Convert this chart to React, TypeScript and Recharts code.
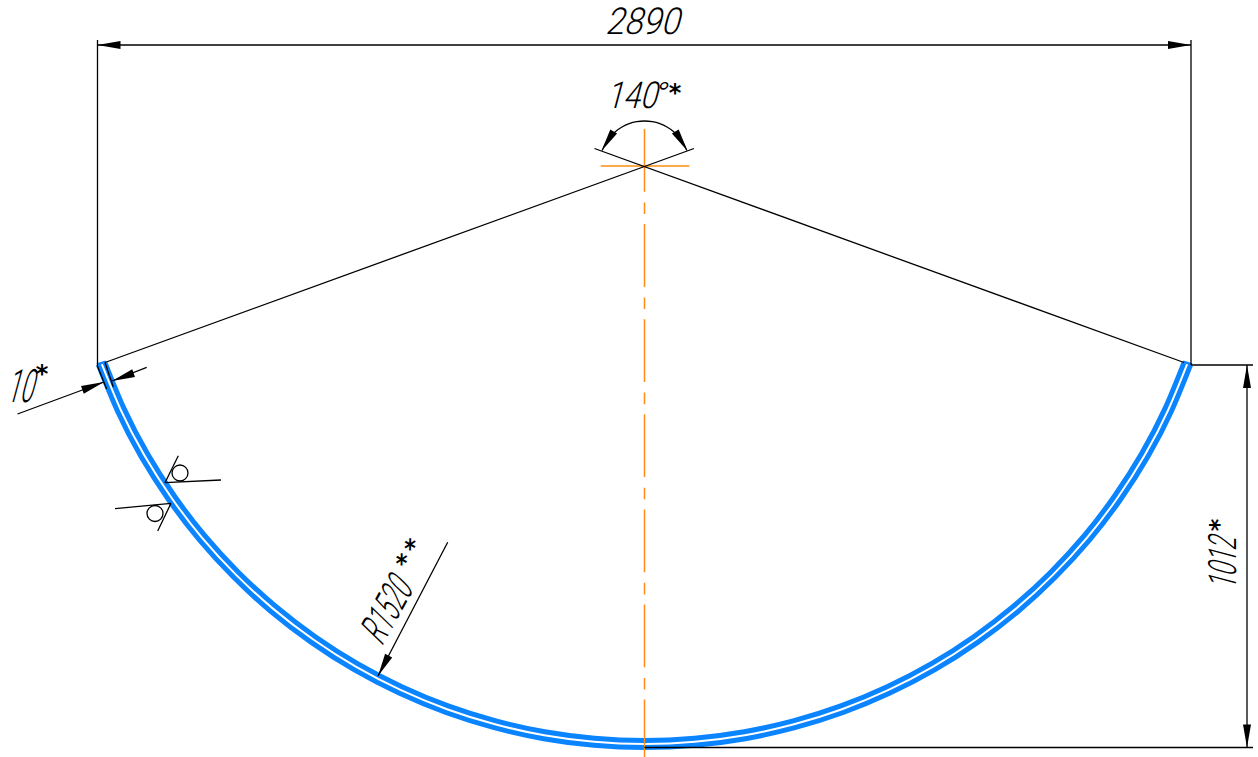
import { ScatterChart, Scatter, XAxis, YAxis } from "recharts";

type P = { x: number; y: number };

const WIDTH = 1258;
const HEIGHT = 757;

// The wall of the shell, every 5 degrees
const outerX = [98.5, 117.9, 141.3, 168.6, 199.4, 233.7, 271, 311.3, 354, 399, 445.8, 494.1, 543.6, 593.9, 644.5, 695.1, 745.4, 794.9, 843.2, 890, 935, 977.7, 1018, 1055.3, 1089.6, 1120.4, 1147.7, 1171.1, 1190.5];
const outerY = [365.2, 412, 457, 499.7, 540, 577.3, 611.6, 642.4, 669.7, 693.1, 712.5, 727.7, 738.7, 745.3, 747.5, 745.3, 738.7, 727.7, 712.5, 693.1, 669.7, 642.4, 611.6, 577.3, 540, 499.7, 457, 412, 365.2];
const innerX = [105.1, 124.3, 147.4, 174.3, 204.8, 238.6, 275.5, 315.3, 357.5, 401.9, 448.2, 495.9, 544.8, 594.5, 644.5, 694.5, 744.2, 793.1, 840.8, 887.1, 931.5, 973.7, 1013.5, 1050.4, 1084.2, 1114.7, 1141.6, 1164.7, 1183.9];
const innerY = [362.8, 409.1, 453.5, 495.7, 535.7, 572.4, 606.2, 636.7, 663.6, 686.7, 705.9, 720.9, 731.8, 738.3, 740.5, 738.3, 731.8, 720.9, 705.9, 686.7, 663.6, 636.7, 606.2, 572.4, 535.7, 495.7, 453.5, 409.1, 362.8];

// 140 degree dimension arc
const angleArcX = [602.2, 605.5, 610, 615.6, 622, 629.1, 636.7, 644.5, 652.3, 659.9, 667, 673.4, 679, 683.5, 686.8];
const angleArcY = [150.6, 143.5, 137.1, 131.5, 127, 123.7, 121.7, 121, 121.7, 123.7, 127, 131.5, 137.1, 143.5, 150.6];

// straight drawing lines: x1, y1, x2, y2
const thinLines: number[][] = [
  [97.5, 365, 97.5, 40],
  [1191, 365, 1191, 40],
  [97.5, 45, 1191, 45],
  [105, 362.5, 694, 148.5],
  [1184, 362.5, 594.5, 148.5],
  [1191, 365, 1253, 365],
  [644.5, 747.5, 1253, 747.5],
  [1247, 365, 1247, 747.5],
  [97, 365, 106.7, 389],
  [105, 362.5, 113.3, 387],
  [17.5, 414, 104, 382],
  [146.7, 367.3, 112, 381],
  [447.7, 542.3, 378, 676],
  [165, 482.7, 221, 480],
  [165, 482.7, 178.3, 455.7],
  [171, 503.3, 115, 508.7],
  [171, 503.3, 157.7, 531],
];

const wallCaps: number[][] = [
  [97, 364.5, 106, 361.6],
  [1183, 361.6, 1192, 364.5],
];

const centreH = [
  { x: 600.7, y: 166 },
  { x: 689.3, y: 166 },
];
const centreV = [
  { x: 644.5, y: 129 },
  { x: 644.5, y: 757 },
];

const arrowX = [97.5, 1191, 1247, 1247, 378, 601.5, 687.5, 104, 112];
const arrowY = [45, 45, 365, 747.5, 676, 151, 151, 382, 381];
const arrowAngle = [180, 0, -90, 90, 117.6, 122, 58, -20, 160];

const weldX = [180, 155];
const weldY = [473, 513.5];

const labelText = ["2890", "140", "°", "10", "1012", "R1520"];
const labelX = [642, 631, 659, 19, 1236, 398];
const labelY = [34, 108, 105, 402, 564, 618];
const labelAngle = [0, 0, 0, 0, -90, -61];
const labelScale = [0.9, 0.82, 1.1, 0.52, 0.6, 0.56];
const labelSize = [37, 37, 32, 46, 39, 41];

const starX = [675, 42, 1214, 401, 409.5];
const starY = [88, 369, 525, 559, 544];
const starAngle = [0, 0, -90, -61, -61];

const pairs = (xs: number[], ys: number[]): P[] => xs.map((x, i) => ({ x, y: ys[i] }));
const noPoint = () => null;

function ArrowHead(props: any) {
  const { cx, cy, payload } = props;
  return (
    <polygon
      points="0,0 -23,-4 -23,4"
      fill="#000"
      transform={`translate(${cx} ${cy}) rotate(${payload.angle})`}
    />
  );
}

function WeldCircle(props: any) {
  const { cx, cy } = props;
  return <circle cx={cx} cy={cy} r={8} fill="none" stroke="#000" strokeWidth={1.3} />;
}

function DrawingLabel(props: any) {
  const { cx, cy, payload } = props;
  return (
    <text
      transform={`translate(${cx} ${cy}) rotate(${payload.angle}) skewX(-15) scale(${payload.scale} 1)`}
      textAnchor="middle"
      fontFamily="Roboto"
      fontWeight={300}
      fontSize={payload.size}
      fill="#000"
    >
      {payload.text}
    </text>
  );
}

function StarLabel(props: any) {
  const { cx, cy, payload } = props;
  return (
    <text
      transform={`translate(${cx} ${cy}) rotate(${payload.angle})`}
      textAnchor="middle"
      dominantBaseline="central"
      dy={5}
      fontFamily="DejaVu Sans"
      fontWeight={700}
      fontSize={24}
      fill="#000"
    >
      *
    </text>
  );
}

const arrows = arrowX.map((x, i) => ({ x, y: arrowY[i], angle: arrowAngle[i] }));
const labels = labelText.map((text, i) => ({
  x: labelX[i],
  y: labelY[i],
  text,
  angle: labelAngle[i],
  scale: labelScale[i],
  size: labelSize[i],
}));
const stars = starX.map((x, i) => ({ x, y: starY[i], angle: starAngle[i] }));

const BLACK_LINE = { stroke: "#000", strokeWidth: 1.3 };
const ORANGE_LINE = { stroke: "#FF8C14", strokeWidth: 1.5 };
const BLUE_LINE = { stroke: "#0A84FF", strokeWidth: 5 };

export default function App() {
  return (
    <div style={{ position: "absolute", left: 0, top: 0, width: WIDTH, height: HEIGHT, background: "#fff" }}>
      <ScatterChart width={WIDTH} height={HEIGHT} margin={{ top: 0, right: 0, bottom: 0, left: 0 }}>
        <XAxis type="number" dataKey="x" domain={[0, WIDTH]} hide />
        <YAxis type="number" dataKey="y" domain={[0, HEIGHT]} reversed hide />

        <Scatter data={pairs(outerX, outerY)} line={BLUE_LINE} lineType="joint" lineJointType="natural" shape={noPoint} isAnimationActive={false} />
        <Scatter data={pairs(innerX, innerY)} line={BLUE_LINE} lineType="joint" lineJointType="natural" shape={noPoint} isAnimationActive={false} />
        {wallCaps.map((c, i) => (
          <Scatter
            key={i}
            data={[{ x: c[0], y: c[1] }, { x: c[2], y: c[3] }]}
            line={{ stroke: "#0A84FF", strokeWidth: 2.5 }}
            lineType="joint"
            shape={noPoint}
            isAnimationActive={false}
          />
        ))}

        <Scatter data={centreH} line={ORANGE_LINE} lineType="joint" shape={noPoint} isAnimationActive={false} />
        <Scatter
          data={centreV}
          line={{ ...ORANGE_LINE, strokeDasharray: "62.8 10.6 11.6 10.1" }}
          lineType="joint"
          shape={noPoint}
          isAnimationActive={false}
        />

        {thinLines.map((l, i) => (
          <Scatter
            key={i}
            data={[{ x: l[0], y: l[1] }, { x: l[2], y: l[3] }]}
            line={BLACK_LINE}
            lineType="joint"
            shape={noPoint}
            isAnimationActive={false}
          />
        ))}
        <Scatter data={pairs(angleArcX, angleArcY)} line={BLACK_LINE} lineType="joint" lineJointType="natural" shape={noPoint} isAnimationActive={false} />

        <Scatter data={arrows} shape={ArrowHead} isAnimationActive={false} />
        <Scatter data={pairs(weldX, weldY)} shape={WeldCircle} isAnimationActive={false} />
        <Scatter data={labels} shape={DrawingLabel} isAnimationActive={false} />
        <Scatter data={stars} shape={StarLabel} isAnimationActive={false} />
      </ScatterChart>
    </div>
  );
}
